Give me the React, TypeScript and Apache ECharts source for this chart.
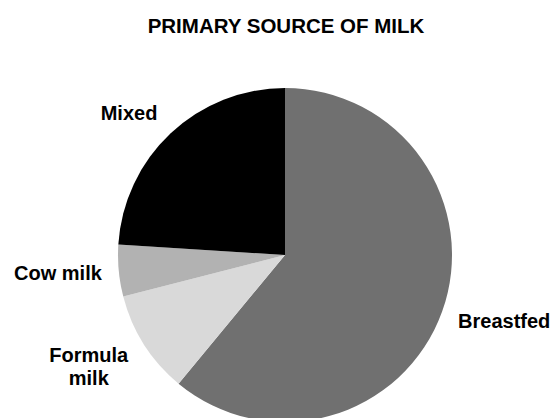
import React, { useEffect, useRef } from "react";
import * as echarts from "echarts";

const categories = ["Breastfed", "Formula\nmilk", "Cow milk", "Mixed"];
const values = [61, 10, 5, 24];
const colors = ["#707070", "#d9d9d9", "#b2b2b2", "#000000"];
const labelOffsets = [
  [-6, 3],
  [-3, 12],
  [6, 1],
  [4, -7],
];

export default function App() {
  const ref = useRef<HTMLDivElement>(null);
  useEffect(() => {
    if (!ref.current) return;
    const chart = echarts.init(ref.current, null, { renderer: "svg" });
    const font = "Liberation Sans, Arial, sans-serif";
    chart.setOption({
      animation: false,
      backgroundColor: "#ffffff",
      title: {
        text: "PRIMARY SOURCE OF MILK",
        left: 281,
        textAlign: "center",
        top: 10,
        textStyle: {
          fontFamily: font,
          fontWeight: "bold",
          fontSize: 20.5,
          color: "#000",
        },
      },
      series: [
        {
          type: "pie",
          center: [285, 255],
          radius: 167,
          startAngle: 90,
          clockwise: true,
          silent: true,
          data: categories.map((c, i) => ({
            name: c,
            value: values[i],
            itemStyle: { color: colors[i] },
            label:
              i === 1
                ? {
                    formatter: c
                      .split("\n")
                      .map((s) => `{c|${s}}`)
                      .join("\n"),
                  }
                : undefined,
          })),
          label: {
            show: true,
            position: "outside",
            formatter: "{b}",
            fontFamily: font,
            fontWeight: "bold",
            fontSize: 20,
            color: "#000",
            lineHeight: 23,
            overflow: "none",
            rich: {
              c: {
                fontFamily: font,
                fontWeight: "bold",
                fontSize: 20,
                color: "#000",
                lineHeight: 23,
                width: 64,
                align: "center",
              },
            },
          },
          labelLine: { show: false, length: 18, length2: 0 },
          labelLayout: (p: any) => ({
            dx: labelOffsets[p.dataIndex][0],
            dy: labelOffsets[p.dataIndex][1],
          }),
        },
      ],
    });
    return () => chart.dispose();
  }, []);
  return (
    <div
      ref={ref}
      style={{ position: "fixed", left: 0, top: 0, width: 559, height: 418 }}
    />
  );
}
